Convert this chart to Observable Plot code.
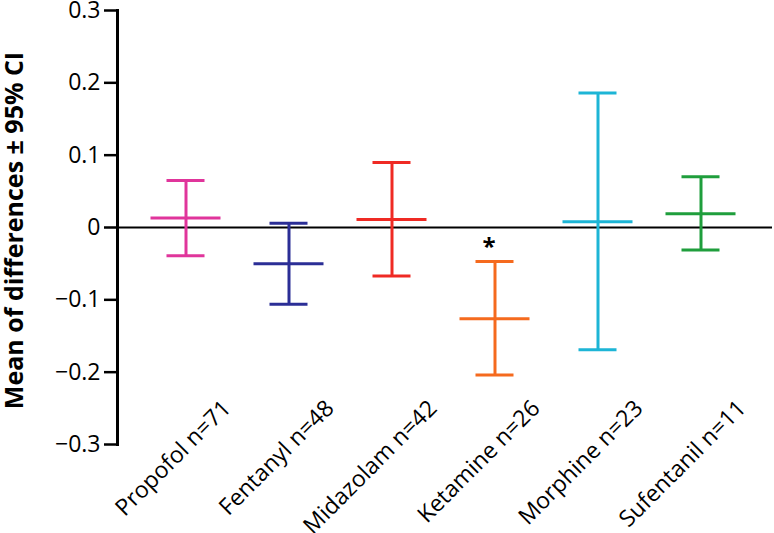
<!DOCTYPE html>
<html><head><meta charset="utf-8">
<script src="https://cdn.jsdelivr.net/npm/d3@7"></script>
<script src="https://cdn.jsdelivr.net/npm/@observablehq/plot@0.6"></script>
<style>body{margin:0;background:#fff;} #chart svg{display:block;overflow:visible;}</style>
</head><body><div id="chart"></div>
<script>
const drugs = ["Propofol","Fentanyl","Midazolam","Ketamine","Morphine","Sufentanil"];
const nValues = [71,48,42,26,23,11];
const means = [0.013,-0.050,0.011,-0.126,0.008,0.019];
const lowers = [-0.039,-0.106,-0.067,-0.204,-0.169,-0.031];
const uppers = [0.065,0.006,0.090,-0.047,0.186,0.070];
const colors = ["#e0359b","#2b2e96","#ef2a24","#f56a1e","#1db5d6","#1f9e3c"];
const yTicks = [-0.3,-0.2,-0.1,0,0.1,0.2,0.3];
const significant = ["Ketamine"];
const yTitle = "Mean of differences ± 95% CI";

const data = drugs.map((d,i)=>({drug:d, n:nValues[i], mean:means[i], lo:lowers[i], hi:uppers[i]}));
const sig = significant.map(d => ({drug:d, hi: uppers[drugs.indexOf(d)]}));

const plot = Plot.plot({
  width: 774, height: 533,
  marginTop: 10, marginBottom: 89, marginLeft: 117, marginRight: 2,
  style: {fontFamily: "'Open Sans', sans-serif", background:"#fff", color:"#000", overflow:"visible"},
  x: {type:"band", domain: drugs, range:[117,768], paddingInner:0, paddingOuter:0.16, axis:null},
  y: {domain:[-0.3,0.3], axis:null},
  color: {type:"ordinal", domain: drugs, range: colors},
  marks: [
    Plot.axisY({ticks: yTicks, tickSize: 13, tickPadding: 4, strokeWidth: 2.5, fontSize: 23, fill:"#000",
      tickFormat: d => d === 0 ? "0" : d3.format(".1f")(d), label: null}),
    Plot.frame({anchor:"left", stroke:"#000", strokeWidth:3}),
    Plot.ruleY([0], {stroke:"#000", strokeWidth:2}),
    Plot.ruleX(data, {x:"drug", y1:"lo", y2:"hi", stroke:"drug", strokeWidth:3}),
    Plot.tickY(data, {x:"drug", y:"hi", stroke:"drug", strokeWidth:3, insetLeft:32.5, insetRight:32.5}),
    Plot.tickY(data, {x:"drug", y:"lo", stroke:"drug", strokeWidth:3, insetLeft:32.5, insetRight:32.5}),
    Plot.tickY(data, {x:"drug", y:"mean", stroke:"drug", strokeWidth:3, insetLeft:16.5, insetRight:16.5}),
    Plot.text(sig, {x:"drug", y:"hi", text: () => "*", fontSize:24, fontWeight:"bold", fill:"#000",
      textAnchor:"middle", lineAnchor:"middle", dx:-6, dy:-14}),
    Plot.text(data, {x:"drug", frameAnchor:"bottom", text: d => `${d.drug} n=${d.n}`, rotate:-45,
      textAnchor:"end", lineAnchor:"middle", dx:41, dy:-40, fontSize:23, fill:"#000", ariaLabel:"xlabels"}),
    Plot.text([yTitle], {frameAnchor:"left", text: d => d, rotate:-90, dx:-103, dy:3, fontWeight:"bold",
      fontSize:25, fill:"#000", textAnchor:"middle", lineAnchor:"middle"})
  ]
});
document.getElementById("chart").appendChild(plot);

// italic "n" in the category labels
d3.select(plot).selectAll('g[aria-label="xlabels"] text').each(function() {
  const t = d3.select(this);
  const s = t.text();
  const m = s.match(/^(.*) n=(\d+)$/);
  if (!m) return;
  t.text(null);
  t.append("tspan").text(m[1] + " ");
  t.append("tspan").attr("font-style","italic").text("n");
  t.append("tspan").text("=" + m[2]);
});
</script></body></html>
